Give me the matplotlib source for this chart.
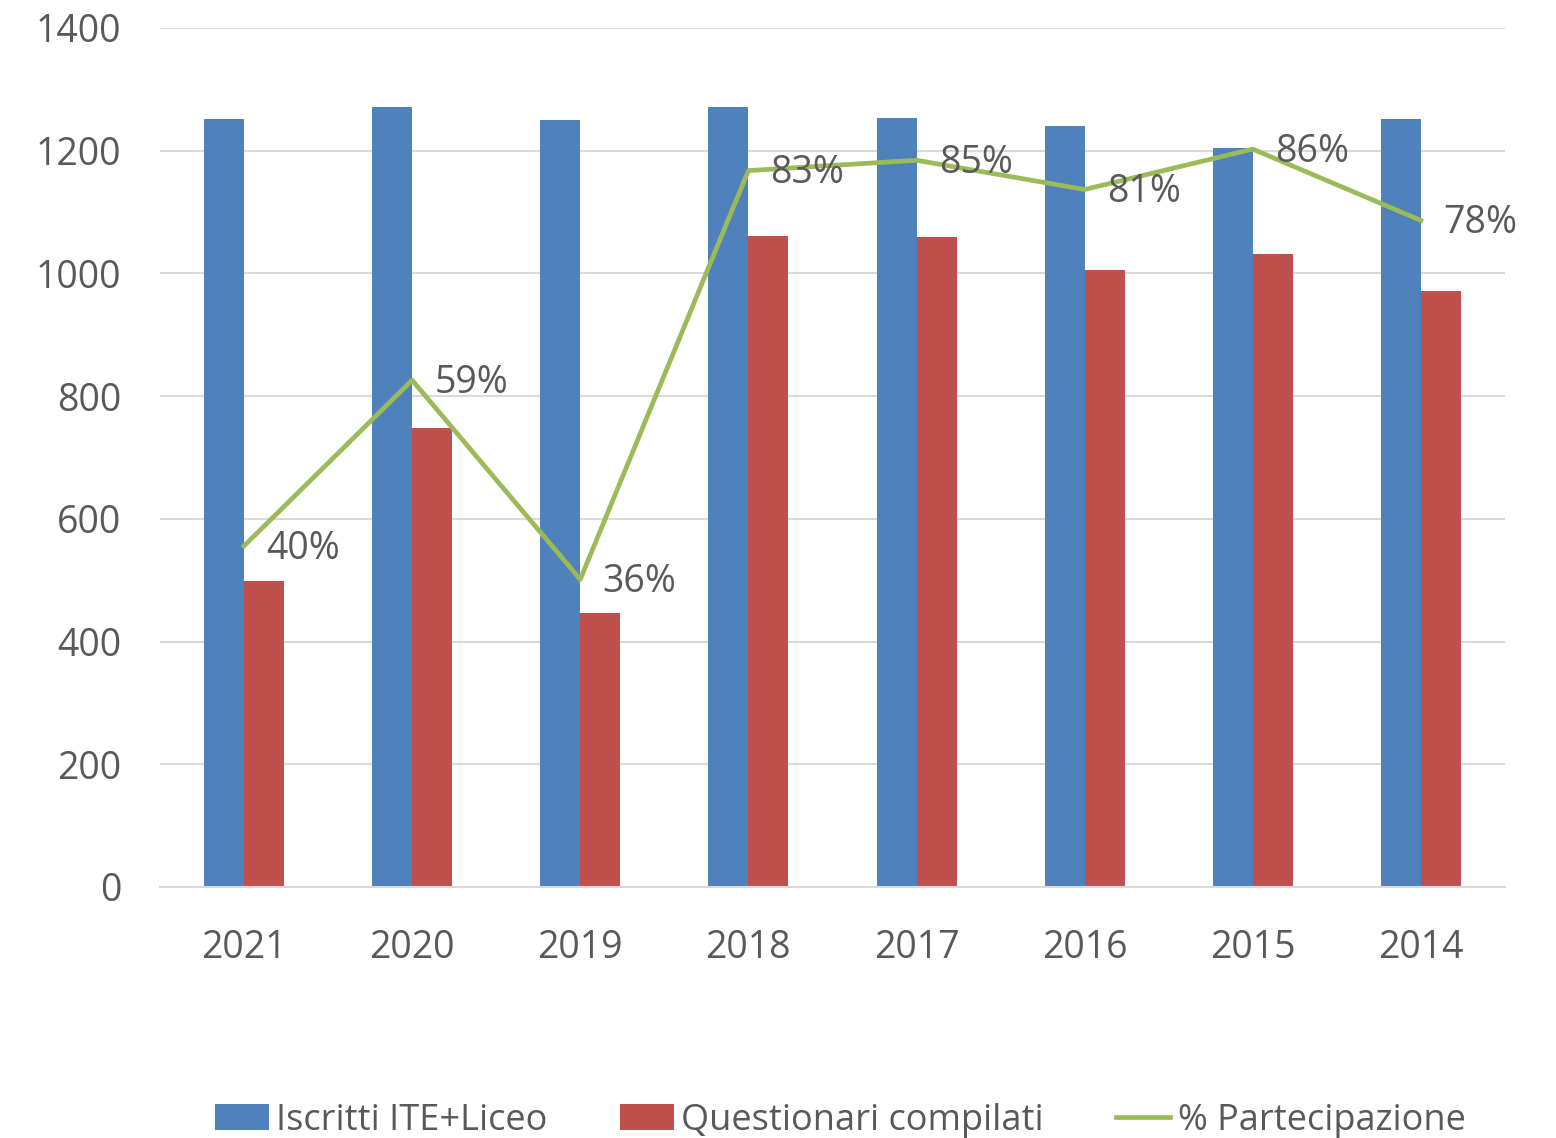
"""
Iscritti vs questionari compilati, con % partecipazione
"""
import numpy as np
import matplotlib
matplotlib.use("Agg")
import matplotlib.pyplot as plt

# dati
anni = ["2021", "2020", "2019", "2018", "2017", "2016", "2015", "2014"]
iscritti = [1252, 1271, 1250, 1271, 1253, 1240, 1204, 1252]
questionari = [499, 748, 447, 1061, 1059, 1006, 1032, 971]
partecipazione = [0.397, 0.590, 0.358, 0.834, 0.846, 0.812, 0.859, 0.776]

blu = "#4F81BD"
rosso = "#C0504D"
verde = "#9BBB59"
grigio = "#595959"

plt.rcParams["font.family"] = ["Open Sans", "DejaVu Sans"]

fig = plt.figure(figsize=(15.56, 11.38), dpi=100)
ax = fig.add_axes([0.1028, 0.2206, 0.8644, 0.7548])

x = np.arange(len(anni))
w = 0.238
ax.bar(x - w / 2, iscritti, w, color=blu, label="Iscritti ITE+Liceo", zorder=2)
ax.bar(x + w / 2, questionari, w, color=rosso, label="Questionari compilati", zorder=2)

ax.set_xlim(-0.5, len(anni) - 0.5)
ax.set_ylim(0, 1400)
ax.set_yticks(range(0, 1401, 200))
ax.set_xticks(x)
ax.set_xticklabels(anni)
ax.grid(axis="y", color="#D9D9D9", linewidth=1.5, zorder=0)
ax.set_axisbelow(True)
for s in ["top", "right", "left"]:
    ax.spines[s].set_visible(False)
ax.spines["bottom"].set_color("#D9D9D9")
ax.spines["bottom"].set_linewidth(1.5)
ax.tick_params(axis="both", length=0, labelsize=27, colors=grigio)
ax.tick_params(axis="y", pad=28)
ax.tick_params(axis="x", pad=30)

# asse secondario nascosto per la percentuale
ax2 = ax.twinx()
ax2.set_ylim(0, 1)
ax2.axis("off")
ax2.plot(x, partecipazione, color=verde, linewidth=3.4, label="% Partecipazione", zorder=3)
for xi, p in zip(x, partecipazione):
    ax2.annotate(f"{p:.0%}", (xi, p), xytext=(16, -2), textcoords="offset points",
                 va="center", ha="left", fontsize=27, color=grigio)

h1, l1 = ax.get_legend_handles_labels()
h2, l2 = ax2.get_legend_handles_labels()
fig.legend(h1 + h2, l1 + l2, loc="lower center", bbox_to_anchor=(0.54, -0.029),
           ncol=3, frameon=False, fontsize=26, labelcolor=grigio,
           handlelength=1.5, handleheight=0.75, handletextpad=0.2, columnspacing=2.0)

fig.savefig("out.png", dpi=100)
